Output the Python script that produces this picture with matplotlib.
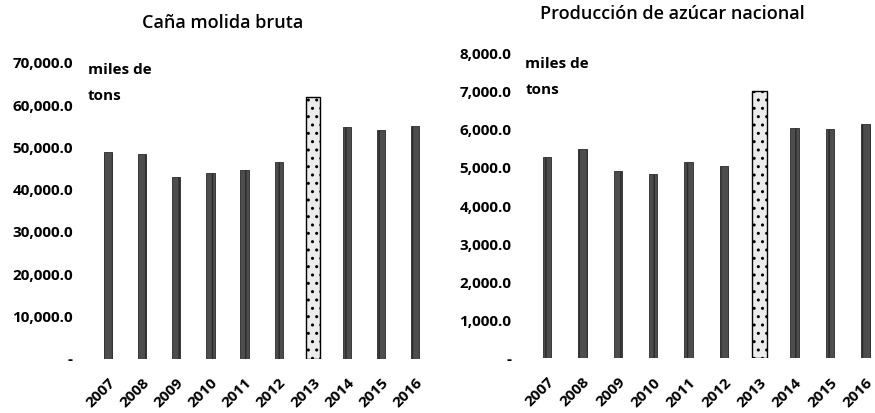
import matplotlib
matplotlib.use("Agg")
import matplotlib.pyplot as plt

# Datos (miles de toneladas)
years = ["2007", "2008", "2009", "2010", "2011", "2012", "2013", "2014", "2015", "2016"]
cana = [49000, 48400, 43100, 43900, 44700, 46500, 61800, 54900, 54100, 55100]
azucar = [5290, 5490, 4920, 4840, 5160, 5050, 7020, 6060, 6030, 6150]
cana_ticks = [0, 10000, 20000, 30000, 40000, 50000, 60000, 70000]
azucar_ticks = [0, 1000, 2000, 3000, 4000, 5000, 6000, 7000, 8000]
highlight = "2013"

plt.rcParams["font.family"] = ["Open Sans", "DejaVu Sans"]

fig = plt.figure(figsize=(8.75, 4.13), dpi=100)


def fmt(v):
    return "-" if v == 0 else f"{v:,.1f}"


def draw(ax, values, ticks, title, title_x, xmax, pad):
    for i, (yr, v) in enumerate(zip(years, values)):
        if yr == highlight:
            ax.bar(i, v, width=0.42, color="#ececec", edgecolor="black",
                   linewidth=1.0, hatch="..")
        else:
            ax.bar(i, v, width=0.24, color="#4d4d4d", edgecolor="#2a2a2a",
                   linewidth=0.6, hatch="||")
    ax.set_xlim(-0.5, xmax)
    ax.set_ylim(0, ticks[-1])
    ax.set_yticks(ticks)
    ax.set_yticklabels([fmt(t) for t in ticks], fontsize=11, fontweight="bold")
    ax.set_xticks(range(len(years)))
    ax.set_xticklabels(years, rotation=45, ha="right", rotation_mode="anchor",
                       fontsize=11, fontweight="bold")
    ax.tick_params(axis="y", length=0, pad=pad)
    ax.tick_params(axis="x", length=0, pad=12)
    for s in ax.spines.values():
        s.set_visible(False)
    ax.set_title(title, fontsize=13, fontweight="semibold", pad=25, x=title_x)


ax1 = fig.add_axes([0.104, 0.131, 0.390, 0.717])
draw(ax1, cana, cana_ticks, "Caña molida bruta", 0.387, 9.5, 13)
ax1.text(-0.6, 1.0, "miles de\ntons", transform=ax1.get_xaxis_transform(),
         fontsize=11, fontweight="bold", va="top", linespacing=2.15)

ax2 = fig.add_axes([0.605, 0.132, 0.392, 0.738])
draw(ax2, azucar, azucar_ticks, "Producción de azúcar nacional", 0.417, 9.2, 13)
ax2.text(-0.62, 0.99, "miles de\ntons", transform=ax2.get_xaxis_transform(),
         fontsize=11, fontweight="bold", va="top", linespacing=2.15)

fig.savefig("out.png", dpi=100, facecolor="white")
